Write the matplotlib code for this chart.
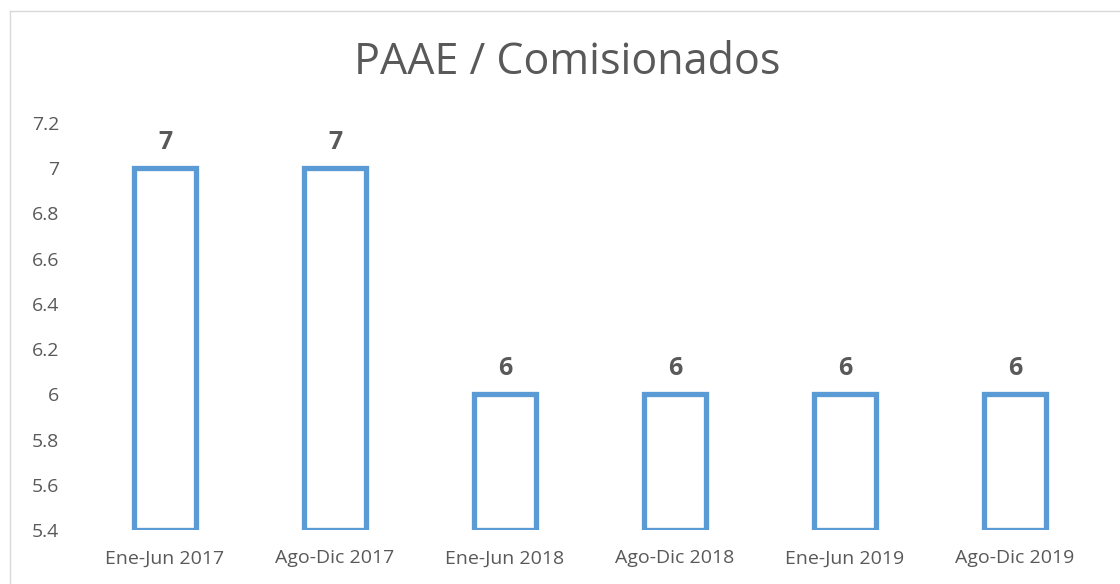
import matplotlib.pyplot as plt
from matplotlib.lines import Line2D

categories = ['Ene-Jun 2017', 'Ago-Dic 2017', 'Ene-Jun 2018', 'Ago-Dic 2018', 'Ene-Jun 2019', 'Ago-Dic 2019']
values = [7, 7, 6, 6, 6, 6]
yticks = [5.4, 5.6, 5.8, 6, 6.2, 6.4, 6.6, 6.8, 7, 7.2]
ytick_labels = ['5.4', '5.6', '5.8', '6', '6.2', '6.4', '6.6', '6.8', '7', '7.2']

plt.rcParams['font.family'] = ['Open Sans', 'DejaVu Sans']

fig = plt.figure(figsize=(11.2, 5.84), dpi=100)
ax = fig.add_axes([80/1120, 54/584, 1020/1120, 407/584])

x = list(range(len(categories)))
ax.bar(x, [v - 5.4 for v in values], bottom=5.4, width=0.37,
       facecolor='white', edgecolor='#5b9bd5', linewidth=3.8)

for xi, v in zip(x, values):
    ax.text(xi, v + 0.06, str(v), ha='center', va='bottom',
            fontsize=18, fontweight='bold', color='#595959')

ax.set_xlim(-0.5, len(categories) - 0.5)
ax.set_ylim(5.4, 7.2)
ax.set_xticks(x)
ax.set_xticklabels(categories, fontsize=14, color='#595959')
ax.set_yticks(yticks)
ax.set_yticklabels(ytick_labels, fontsize=14, color='#595959')
ax.tick_params(length=0)
ax.tick_params(axis='x', pad=14)
ax.tick_params(axis='y', pad=15)
for s in ax.spines.values():
    s.set_visible(False)

fig.suptitle('PAAE / Comisionados', x=567/1120, y=1 - 63/584, va='center',
             fontsize=31, color='#595959')

# chart area border (top and left visible)
fig.add_artist(Line2D([10/1120, 1], [1 - 11/584, 1 - 11/584], transform=fig.transFigure,
                      color='#d9d9d9', linewidth=1))
fig.add_artist(Line2D([10/1120, 10/1120], [0, 1 - 11/584], transform=fig.transFigure,
                      color='#d9d9d9', linewidth=1))

fig.savefig('out.png', dpi=100)
